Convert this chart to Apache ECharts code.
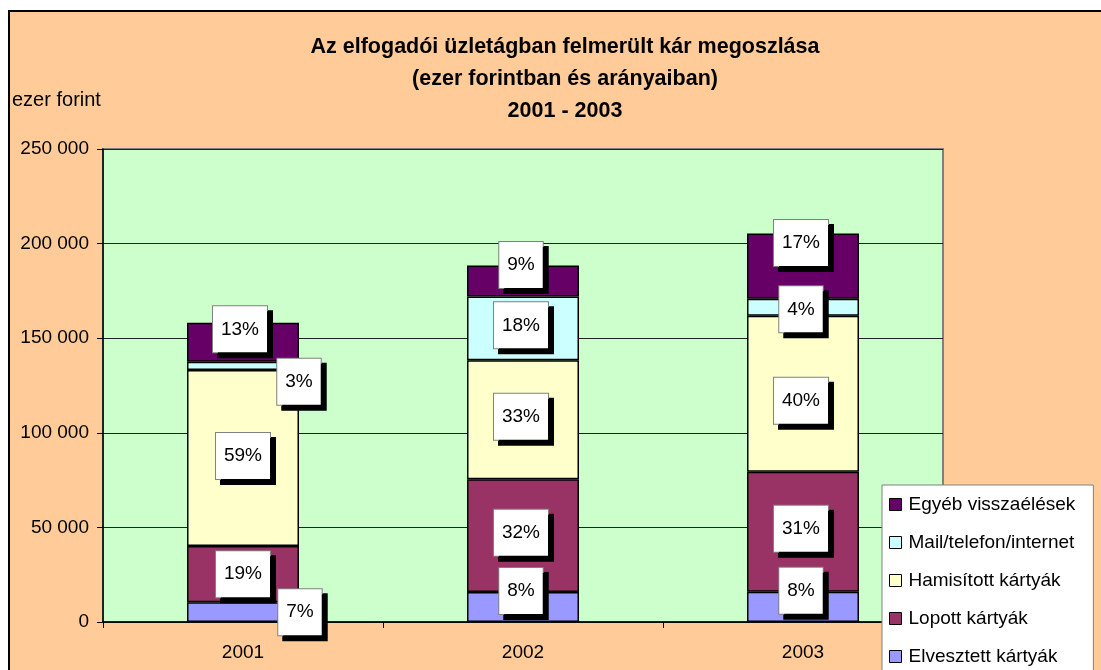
<!DOCTYPE html>
<html>
<head>
<meta charset="utf-8">
<script src="https://cdn.jsdelivr.net/npm/echarts@6/dist/echarts.min.js"></script>
<style>
  html, body { margin: 0; padding: 0; background: #fff; }
  #frame {
    position: absolute; left: 8px; top: 10px; width: 1093px; height: 660px;
    background: #FFCC99; border-left: 2px solid #000; border-top: 2px solid #000;
    box-sizing: border-box;
  }
  #chart { position: absolute; left: 0; top: 0; width: 1101px; height: 670px; }
</style>
</head>
<body>
<div id="frame"></div>
<div id="chart"></div>
<script>
// ezer forint
const years = ['2001', '2002', '2003']
const elvesztett = [10400, 15900, 16000]
const lopott = [29800, 59500, 63400]
const hamisitott = [93000, 63000, 82500]
const mailTelefon = [4400, 33700, 8900]
const egyeb = [20500, 16300, 34600]

const yTicks = [0, 50000, 100000, 150000, 200000, 250000]

const seriesDefs = [
  { name: 'Elvesztett kártyák', data: elvesztett, color: '#9999FF' },
  { name: 'Lopott kártyák', data: lopott, color: '#993366' },
  { name: 'Hamisított kártyák', data: hamisitott, color: '#FFFFCC' },
  { name: 'Mail/telefon/internet', data: mailTelefon, color: '#CCFFFF' },
  { name: 'Egyéb visszaélések', data: egyeb, color: '#660066' },
]

// label nudges [dx, dy] per series (same order as seriesDefs) and year
// the original had some labels dragged by hand
const labelShift = [
  [[57, 0], [-2, -16], [-2, -16]],
  [[0, 0], [-2, -3], [-2, -3]],
  [[0, -2], [-2, -3], [-2, 7]],
  [[56, 16], [-2, -3], [-2, 2]],
  [[-3, -13], [-2, -16], [-2, -23]],
]

const totals = years.map((_, i) => seriesDefs.reduce((s, d) => s + d.data[i], 0))

const font = '"Liberation Sans", Arial, sans-serif'

const chart = echarts.init(document.getElementById('chart'))

chart.setOption({
  animation: false,
  backgroundColor: 'transparent',
  textStyle: { fontFamily: font, color: '#000' },
  title: {
    text: 'Az elfogadói üzletágban felmerült kár megoszlása\n(ezer forintban és arányaiban)\n2001 - 2003',
    left: 560,
    top: 26,
    textAlign: 'center',
    textStyle: { fontFamily: font, fontSize: 21.5, fontWeight: 'bold', lineHeight: 32, color: '#000' },
  },
  graphic: [
    {
      type: 'text',
      left: 12,
      top: 90,
      style: { text: 'ezer forint', font: '20px ' + font, fill: '#000' },
    },
  ],
  legend: {
    orient: 'vertical',
    left: 882,
    top: 485,
    height: 260,
    data: seriesDefs.map(d => d.name).reverse(),
    backgroundColor: '#fff',
    borderColor: '#808080',
    borderWidth: 1,
    borderRadius: 0,
    padding: [10, 18, 10, 7],
    itemWidth: 12,
    itemHeight: 12,
    itemGap: 19,
    icon: 'rect',
    itemStyle: { borderColor: '#000', borderWidth: 1 },
    textStyle: { fontFamily: font, fontSize: 19, color: '#000', padding: [0, 0, 0, 2] },
  },
  grid: {
    left: 103,
    top: 149,
    right: 158,
    bottom: 48,
    show: true,
    backgroundColor: '#CCFFCC',
    borderColor: '#808080',
    borderWidth: 2,
  },
  xAxis: {
    type: 'category',
    data: years,
    axisLine: { lineStyle: { color: '#000', width: 1.5 } },
    axisTick: { show: true, length: 6, lineStyle: { color: '#000' } },
    axisLabel: { fontSize: 19, color: '#000', margin: 21, fontFamily: font },
  },
  yAxis: {
    type: 'value',
    min: yTicks[0],
    max: yTicks[yTicks.length - 1],
    interval: yTicks[1] - yTicks[0],
    axisLine: { show: true, lineStyle: { color: '#000', width: 1.5 } },
    axisTick: { show: true, length: 6, lineStyle: { color: '#000' } },
    splitLine: { lineStyle: { color: '#222', width: 1 } },
    axisLabel: {
      fontSize: 19,
      color: '#000',
      margin: 14,
      fontFamily: font,
      formatter: v => String(v).replace(/\B(?=(\d{3})+(?!\d))/g, ' '),
    },
  },
  series: seriesDefs.map((d, si) => ({
    name: d.name,
    type: 'bar',
    stack: 'total',
    barWidth: '40%',
    itemStyle: { color: d.color, borderColor: '#000', borderWidth: 1.5 },
    data: d.data,
    label: {
      show: true,
      position: 'inside',
      formatter: p => Math.round(p.value / totals[p.dataIndex] * 100) + '%',
      fontFamily: font,
      fontSize: 19,
      lineHeight: 20,
      color: '#000',
      backgroundColor: '#fff',
      borderColor: '#808080',
      borderWidth: 1,
      padding: [13, 8, 13, 8],
      shadowColor: '#000',
      shadowBlur: 0,
      shadowOffsetX: 5,
      shadowOffsetY: 5,
    },
    labelLayout: p => {
      const s = labelShift[si][p.dataIndex]
      return { dx: s[0], dy: s[1], hideOverlap: false }
    },
    z: 2,
  })),
})
</script>
</body>
</html>
